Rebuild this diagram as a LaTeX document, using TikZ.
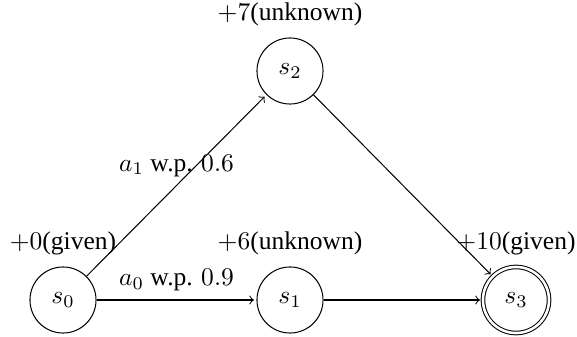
\documentclass[tikz,border=0pt]{standalone}
\usepackage[no-math]{fontspec}
\setmainfont{Liberation Serif}
\begin{document}
\begin{tikzpicture}[x=0.392pt,y=-0.392pt,
  statenode/.style={circle,draw,minimum size=25.9pt,inner sep=0pt},
  acceptnode/.style={statenode,double,double distance=1pt},
  conn/.style={->,shorten >=1pt},
  lbl/.style={label distance=1pt}]
\useasboundingbox (0,0) rectangle (577,337);
\node[statenode,label={[lbl]above:{$+0$(given)}}] (s0) at (63,300) {$s_0$};
\node[statenode,label={[lbl]above:{$+6$(unknown)}}] (s1) at (290,300) {$s_1$};
\node[statenode,label={[lbl]above:{$+7$(unknown)}}] (s2) at (290,71) {$s_2$};
\node[acceptnode,label={[lbl]above:{$+10$(given)}}] (s3) at (516,300) {$s_3$};
\draw[conn] (s0) -- node[above] (e1) {$a_1$ w.p. $0.6$} (s2);
\draw[conn] (s0) -- node[above] (e0) {$a_0$ w.p. $0.9$} (s1);
\draw[conn] (s2) -- (s3);
\draw[conn] (s1) -- (s3);
\end{tikzpicture}
\end{document}
